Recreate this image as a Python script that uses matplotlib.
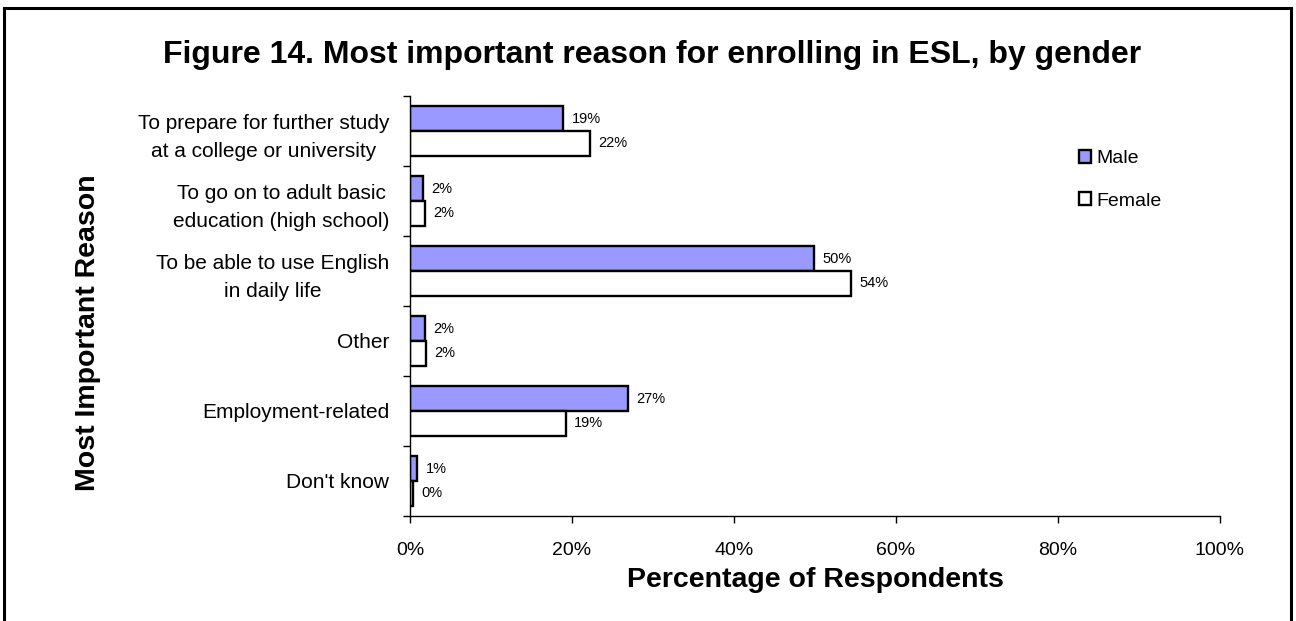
import matplotlib
matplotlib.use("Agg")
import matplotlib.pyplot as plt
from matplotlib.patches import Rectangle
from matplotlib.ticker import FuncFormatter, FixedLocator
import numpy as np

plt.rcParams["font.family"] = ["Liberation Sans", "DejaVu Sans"]

# Survey answers, listed top to bottom as they appear on the chart
reasons = [
    "To prepare for further study\nat a college or university",
    "To go on to adult basic\neducation (high school)",
    "To be able to use English\nin daily life",
    "Other",
    "Employment-related",
    "Don't know",
]
male_pct = [18.9, 1.6, 49.9, 1.9, 26.9, 0.9]
female_pct = [22.2, 1.8, 54.4, 2.0, 19.2, 0.4]
x_ticks = [0, 20, 40, 60, 80, 100]

W, H = 1296, 621
fig = plt.figure(figsize=(W / 100, H / 100), dpi=100)

# outer frame around the whole figure
fig.patches.append(Rectangle((4 / W, -0.02), 1287 / W, 1 - 8 / H + 0.02,
                             transform=fig.transFigure, fill=False,
                             edgecolor="black", linewidth=2.2))

ax = fig.add_axes([410 / W, 1 - 516 / H, 810 / W, 420 / H])

n = len(reasons)
pos = np.arange(n)[::-1].astype(float)
bh = 0.357
ax.barh(pos + bh / 2, male_pct, height=bh, color="#9999FF",
        edgecolor="black", linewidth=1.7, label="Male")
ax.barh(pos - bh / 2, female_pct, height=bh, color="white",
        edgecolor="black", linewidth=1.7, label="Female")

for p, m, f in zip(pos, male_pct, female_pct):
    ax.annotate(f"{m:.0f}%", (m, p + bh / 2), xytext=(6, 0),
                textcoords="offset points", va="center", ha="left", fontsize=10.5)
    ax.annotate(f"{f:.0f}%", (f, p - bh / 2), xytext=(6, 0),
                textcoords="offset points", va="center", ha="left", fontsize=10.5)

ax.set_xlim(0, 100)
ax.set_ylim(-0.5, n - 0.5)

ax.xaxis.set_major_locator(FixedLocator(x_ticks))
ax.xaxis.set_major_formatter(FuncFormatter(lambda v, _: f"{v:.0f}%"))
ax.tick_params(axis="x", direction="out", length=5, width=1, pad=14, labelsize=14)

# category boundaries carry the tick marks, category centres carry the labels
ax.yaxis.set_major_locator(FixedLocator(np.arange(-0.5, n, 1.0)))
ax.yaxis.set_major_formatter(FuncFormatter(lambda v, _: ""))
ax.set_yticks(pos, labels=reasons, minor=True)
ax.tick_params(axis="y", which="major", direction="out", length=5, width=1)
ax.tick_params(axis="y", which="minor", length=0, pad=15, labelsize=15)
for lbl in ax.get_yticklabels(minor=True):
    lbl.set_multialignment("center")
    lbl.set_linespacing(1.6)

for side in ("top", "right"):
    ax.spines[side].set_visible(False)
for side in ("left", "bottom"):
    ax.spines[side].set_linewidth(1)

fig.text(652 / W, 1 - 55 / H,
         "Figure 14. Most important reason for enrolling in ESL, by gender",
         ha="center", va="center", fontsize=23, fontweight="bold")
fig.text(815 / W, 1 - 580 / H, "Percentage of Respondents",
         ha="center", va="center", fontsize=20.5, fontweight="bold")
fig.text(88 / W, 1 - 333 / H, "Most Important Reason", rotation=90,
         ha="center", va="center", fontsize=20.5, fontweight="bold")

fig.legend(loc="upper left", bbox_to_anchor=(1069 / W, 1 - 140 / H),
           frameon=False, fontsize=14, handlelength=0.65, handleheight=0.65,
           handletextpad=0.25, labelspacing=1.3, borderpad=0)

fig.savefig("out.png", dpi=100)
